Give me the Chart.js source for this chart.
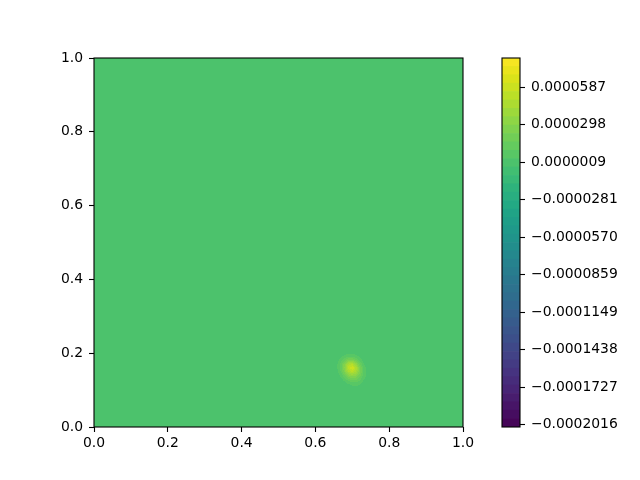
<!DOCTYPE html>
<html>
<head>
<meta charset="utf-8">
<script src="https://cdn.jsdelivr.net/npm/chart.js@4"></script>
<style>
  body { margin: 0; background: #fff; }
  canvas { position: absolute; left: 0; top: 0; }
</style>
</head>
<body>
<canvas id="field" width="640" height="480"></canvas>
<canvas id="cbar" width="640" height="480"></canvas>
<script>
// axis ticks
const xTicks = [0, 0.2, 0.4, 0.6, 0.8, 1.0];
const yTicks = [0, 0.2, 0.4, 0.6, 0.8, 1.0];
const cbTicks = [-0.0002016, -0.0001727, -0.0001438, -0.0001149, -0.0000859,
                 -0.0000570, -0.0000281, 0.0000009, 0.0000298, 0.0000587];

// colour levels
const cbRange = [-0.0002034, 0.0000814];
const levelCount = 44;

// field: flat background plus one bump, sampled on a small grid (values in 1e-5)
const backgroundValue = 0;
const gridX = [0.65, 0.66, 0.67, 0.68, 0.69, 0.70, 0.71, 0.72, 0.73, 0.74, 0.75];
const gridY = [0.10, 0.11, 0.12, 0.13, 0.14, 0.15, 0.16, 0.17, 0.18, 0.19, 0.20, 0.21];
const gridZ = [
  [0, 0,   0,   0,   0,   0,   0,   0,   0,   0,   0],
  [0, 0,   0,   0,   0,   0.2, 0.3, 0.2, 0,   0,   0],
  [0, 0,   0,   0.2, 0.6, 0.9, 0.9, 0.6, 0.2, 0,   0],
  [0, 0,   0.2, 0.8, 1.6, 2.0, 1.9, 1.3, 0.5, 0.1, 0],
  [0, 0.1, 0.6, 1.7, 2.9, 3.4, 3.0, 2.0, 0.8, 0.2, 0],
  [0, 0.3, 1.1, 2.7, 4.4, 5.0, 4.2, 2.6, 1.0, 0.2, 0],
  [0, 0.4, 1.5, 3.2, 5.2, 6.2, 4.8, 2.6, 0.9, 0.1, 0],
  [0, 0.4, 1.4, 2.9, 4.6, 4.9, 3.6, 1.8, 0.5, 0,   0],
  [0, 0.2, 0.8, 1.8, 2.8, 2.8, 1.9, 0.8, 0.2, 0,   0],
  [0, 0,   0.3, 0.7, 1.1, 1.1, 0.7, 0.3, 0,   0,   0],
  [0, 0,   0,   0.1, 0.3, 0.3, 0.1, 0,   0,   0,   0],
  [0, 0,   0,   0,   0,   0,   0,   0,   0,   0,   0]
];
const zUnit = 1e-5;

const viridis = ["#440154", "#471365", "#482475", "#463480", "#414487", "#3b528b",
                 "#355f8d", "#2f6c8e", "#2a788e", "#25848e", "#21918c", "#1e9c89",
                 "#22a884", "#2fb47c", "#44bf70", "#5ec962", "#7ad151", "#9bd93c",
                 "#bddf26", "#dfe318", "#fde725"];

function hexRgb(h) {
  return [parseInt(h.slice(1, 3), 16), parseInt(h.slice(3, 5), 16), parseInt(h.slice(5, 7), 16)];
}
const viridisRgb = viridis.map(hexRgb);

function cmap(t) {
  t = Math.min(1, Math.max(0, t));
  const p = t * (viridisRgb.length - 1);
  const i = Math.min(viridisRgb.length - 2, Math.floor(p));
  const f = p - i;
  const a = viridisRgb[i], b = viridisRgb[i + 1];
  return [0, 1, 2].map(k => Math.round(a[k] + (b[k] - a[k]) * f));
}

const step = (cbRange[1] - cbRange[0]) / levelCount;
const levelRgb = [];
for (let i = 0; i < levelCount; i++) levelRgb.push(cmap((i + 0.5) / levelCount));

function levelIndex(z) {
  const i = Math.floor((z - cbRange[0]) / step);
  return Math.min(levelCount - 1, Math.max(0, i));
}

function findCell(arr, v) {
  for (let i = 0; i < arr.length - 1; i++) {
    if (v >= arr[i] && v <= arr[i + 1]) return i;
  }
  return -1;
}

function sample(xv, yv) {
  const i = findCell(gridX, xv), j = findCell(gridY, yv);
  if (i < 0 || j < 0) return backgroundValue;
  const fx = (xv - gridX[i]) / (gridX[i + 1] - gridX[i]);
  const fy = (yv - gridY[j]) / (gridY[j + 1] - gridY[j]);
  const z00 = gridZ[j][i], z10 = gridZ[j][i + 1];
  const z01 = gridZ[j + 1][i], z11 = gridZ[j + 1][i + 1];
  const z = z00 * (1 - fx) * (1 - fy) + z10 * fx * (1 - fy) + z01 * (1 - fx) * fy + z11 * fx * fy;
  return z * zUnit;
}

Chart.defaults.font.family = "'DejaVu Sans', sans-serif";
Chart.defaults.font.size = 13.9;
Chart.defaults.color = "#000";
Chart.defaults.animation = false;

const frame = {
  id: "frame",
  afterDraw(chart) {
    const { ctx, chartArea: a } = chart;
    ctx.save();
    ctx.strokeStyle = "#000";
    ctx.lineWidth = 1.1;
    ctx.strokeRect(a.left, a.top, a.right - a.left, a.bottom - a.top);
    ctx.restore();
  }
};

const fieldPlugin = {
  id: "fieldFill",
  beforeDatasetsDraw(chart) {
    const { ctx, chartArea: a, scales: { x, y } } = chart;
    const x0 = Math.round(a.left), y0 = Math.round(a.top);
    const w = Math.round(a.right) - x0, h = Math.round(a.bottom) - y0;
    const img = ctx.createImageData(w, h);
    for (let j = 0; j < h; j++) {
      const yv = y.getValueForPixel(y0 + j + 0.5);
      for (let i = 0; i < w; i++) {
        const xv = x.getValueForPixel(x0 + i + 0.5);
        const c = levelRgb[levelIndex(sample(xv, yv))];
        const o = (j * w + i) * 4;
        img.data[o] = c[0]; img.data[o + 1] = c[1]; img.data[o + 2] = c[2]; img.data[o + 3] = 255;
      }
    }
    ctx.putImageData(img, x0, y0);
  }
};

const tickGrid = { display: true, drawOnChartArea: false, drawTicks: true, tickLength: 5, tickColor: "#000", tickWidth: 1.1 };

new Chart(document.getElementById("field"), {
  type: "scatter",
  data: { datasets: [{ data: [], pointRadius: 0 }] },
  options: {
    responsive: false,
    layout: { padding: { left: 0, top: 58, right: 177, bottom: 0 } },
    plugins: { legend: { display: false }, tooltip: { enabled: false } },
    scales: {
      x: {
        type: "linear", min: 0, max: 1,
        afterBuildTicks: s => { s.ticks = xTicks.map(v => ({ value: v })); },
        afterFit: s => { s.height = 53; },
        ticks: { callback: v => v.toFixed(1), padding: 3, maxRotation: 0 },
        grid: tickGrid,
        border: { display: false }
      },
      y: {
        type: "linear", min: 0, max: 1,
        afterBuildTicks: s => { s.ticks = yTicks.map(v => ({ value: v })); },
        afterFit: s => { s.width = 94; },
        ticks: { callback: v => v.toFixed(1), padding: 6 },
        grid: tickGrid,
        border: { display: false }
      }
    }
  },
  plugins: [fieldPlugin, frame]
});

const cbDatasets = levelRgb.map((c, i) => ({
  data: [[cbRange[0] + i * step, cbRange[0] + (i + 1) * step]],
  backgroundColor: `rgb(${c[0]},${c[1]},${c[2]})`,
  borderWidth: 0,
  barPercentage: 1,
  categoryPercentage: 1
}));

new Chart(document.getElementById("cbar"), {
  type: "bar",
  data: { labels: [""], datasets: cbDatasets },
  options: {
    responsive: false,
    layout: { padding: { left: 502, top: 58, right: 0, bottom: 53 } },
    plugins: { legend: { display: false }, tooltip: { enabled: false } },
    scales: {
      x: { display: false, stacked: true },
      y: {
        position: "right", stacked: false,
        min: cbRange[0], max: cbRange[1],
        afterBuildTicks: s => { s.ticks = cbTicks.map(v => ({ value: v })); },
        afterFit: s => { s.width = 120; },
        ticks: { callback: v => v.toFixed(7).replace("-", "\u2212"), padding: 6 },
        grid: tickGrid,
        border: { display: false }
      }
    }
  },
  plugins: [frame]
});
</script>
</body>
</html>
